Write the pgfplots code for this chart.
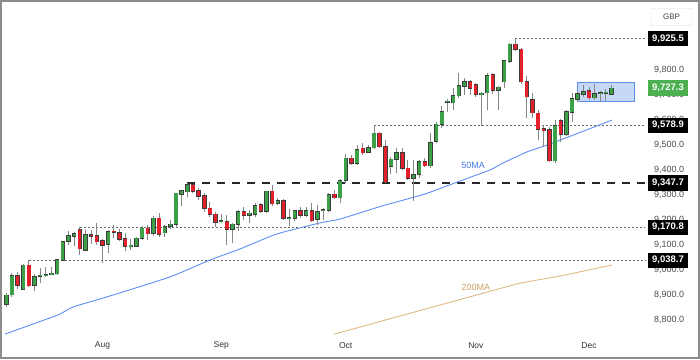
\documentclass[border=0pt]{standalone}
\usepackage{pgfplots}
\pgfplotsset{compat=1.18}
\usepackage{pgfplotstable}
\usepackage{fontspec}
\setmainfont{Liberation Sans}

\definecolor{cgreen}{RGB}{60,160,70}
\definecolor{cred}{RGB}{228,32,42}
\definecolor{coutline}{RGB}{60,60,60}
\definecolor{cwick}{RGB}{135,135,135}
\definecolor{ma50}{RGB}{95,140,245}
\definecolor{ma200}{RGB}{224,184,130}
\definecolor{ma50t}{RGB}{70,120,230}
\definecolor{ma200t}{RGB}{205,160,100}
\definecolor{boxfill}{RGB}{198,216,247}
\definecolor{boxline}{RGB}{95,140,240}
\definecolor{lblgreen}{RGB}{76,175,80}
\definecolor{ticktext}{RGB}{75,75,75}

% green candles: index, open, high, low, close
\pgfplotstableread{
i O H L C
0 8864 8907 8853 8899
1 8901 8989 8893 8976
3 8924 9023 8920 9019
5 8939 8984 8917 8973
6 8976 9008 8947 8979
7 8979 9013 8971 8982
8 8981 9011 8979 8987
9 8985 9045 8979 9040
10 9040 9115 9037 9112
11 9115 9157 9099 9136
12 9136 9153 9096 9144
14 9080 9160 9075 9140
18 9104 9160 9069 9153
22 9093 9123 9080 9099
23 9096 9133 9093 9127
24 9127 9176 9120 9167
26 9147 9216 9136 9207
28 9149 9180 9133 9173
29 9176 9200 9163 9183
30 9183 9309 9167 9307
31 9304 9320 9256 9316
32 9313 9347.7 9291 9340
38 9193 9223 9187 9196
40 9163 9187 9107 9183
41 9183 9240 9157 9233
43 9219 9240 9189 9227
44 9223 9267 9213 9257
46 9236 9317 9229 9315
48 9267 9287 9260 9277
50 9207 9243 9177 9209
51 9207 9240 9196 9237
53 9220 9253 9213 9237
55 9203 9260 9180 9233
56 9237 9247 9200 9240
57 9240 9307 9233 9300
59 9289 9363 9267 9356
60 9360 9465 9347 9447
62 9427 9500 9420 9480
64 9471 9500 9467 9489
65 9489 9578.9 9484 9547
68 9416 9451 9384 9443
69 9444 9487 9390 9469
72 9367 9440 9277 9380
73 9383 9440 9367 9433
75 9417 9547 9409 9509
76 9516 9593 9507 9583
77 9584 9656 9568 9633
78 9672 9682 9633 9675
79 9669 9727 9640 9697
80 9697 9789 9687 9736
81 9736 9767 9700 9753
84 9701 9710 9575 9707
85 9709 9787 9640 9776
87 9720 9736 9640 9731
88 9753 9840 9727 9836
89 9836 9907 9827 9903
97 9437 9600 9427 9577
99 9543 9640 9536 9632
100 9632 9707 9593 9684
101 9684 9713 9673 9704
102 9703 9740 9693 9713
104 9689 9744 9680 9704
105 9706 9716 9673 9708
106 9707 9723 9676 9710
107 9704 9740 9700 9727.3
}\gT

% red candles: index, open, high, low, close
\pgfplotstableread{
i O H L C
2 8976 8993 8923 8940
4 9019 9038.7 8933 8937
13 9160 9170.8 9059 9085
15 9140 9160 9104 9136
16 9136 9189 9101 9113
17 9116 9123 9029 9099
19 9155 9180 9127 9151
20 9148 9163 9115 9124
21 9124 9147 9076 9095
25 9167 9180 9120 9145
27 9207 9227 9133 9144
33 9340 9345 9307 9316
34 9317 9327 9280 9296
35 9296 9307 9233 9247
36 9247 9271 9213 9223
37 9223 9233 9173 9191
39 9193 9220 9100 9163
42 9233 9253 9200 9220
45 9260 9269 9227 9236
47 9315 9340 9256 9265
49 9277 9283 9200 9207
52 9237 9253 9207 9220
54 9237 9267 9193 9197
58 9303 9320 9283 9289
61 9447 9460 9420 9427
63 9487 9507 9460 9469
66 9547 9551 9487 9493
67 9493 9520 9347 9353
70 9469 9487 9400 9407
71 9407 9440 9360 9367
74 9433 9447 9413 9417
82 9753 9760 9700 9727
83 9740 9747 9693 9703
86 9780 9789 9704 9720
90 9903 9925.5 9877 9883
91 9883 9887 9744 9753
92 9753 9775 9607 9693
93 9680 9707 9607 9629
94 9627 9640 9520 9563
95 9564 9580 9493 9557
96 9560 9573 9433 9437
98 9596 9603 9513 9543
103 9716 9733 9680 9689
}\rT

\begin{document}
\begin{tikzpicture}
\useasboundingbox (0,0) rectangle (700pt,359pt);
\begin{axis}[
  at={(2pt,0pt)}, anchor=south west,
  scale only axis, width=643pt, height=359pt,
  xmin=-0.76, xmax=112.9, ymin=8644, ymax=10080,
  axis line style={draw=none}, major tick length=0pt,
  clip=false,
  scaled y ticks=false, scaled x ticks=false,
  xtick={17,38,60,83,103}, xticklabels={Aug,Sep,Oct,Nov,Dec},
  xticklabel style={anchor=center, yshift=13.5pt, font=\fontsize{8.5}{10}\selectfont, text=black!80},
  ytick={8800,8900,...,9800}, yticklabel pos=right,
  yticklabel style={anchor=west, inner sep=0pt, xshift=9pt, font=\fontsize{9}{10}\selectfont, text=ticktext,
    /pgf/number format/.cd, fixed, fixed zerofill, precision=1, 1000 sep={,}, assume math mode=true},
  every error bar/.style={},
]
% highlight box
\addplot[fill=boxfill, draw=boxline, line width=0.8pt] coordinates {(101,9676) (111,9676) (111,9752) (101,9752) (101,9676)};

% horizontal levels
\addplot[black!60, line width=0.7pt, dash pattern=on 2pt off 2pt] coordinates {(4,9038.7) (112.9,9038.7)};
\addplot[black!60, line width=0.7pt, dash pattern=on 2pt off 2pt] coordinates {(13,9170.8) (112.9,9170.8)};
\addplot[black!60, line width=0.7pt, dash pattern=on 2pt off 2pt] coordinates {(65,9578.9) (112.9,9578.9)};
\addplot[black!60, line width=0.7pt, dash pattern=on 2pt off 2pt] coordinates {(90,9925.5) (112.9,9925.5)};
\addplot[black!85, line width=1.8pt, dash pattern=on 8pt off 7pt] coordinates {(32,9347.7) (112.9,9347.7)};

% moving averages
\addplot[ma50, line width=0.9pt, smooth, tension=0.3] coordinates {
(-0.2,8744) (9.1,8820) (11.8,8852) (18.3,8896) (28.9,8972) (36.0,9040) (41.3,9084)
(47.8,9144) (55.4,9188) (59.0,9204) (66.4,9256) (74.0,9304) (80.2,9356) (85.5,9400)
(87.8,9428) (92.0,9472) (96.1,9504) (107.1,9600)};
\addplot[ma200, line width=0.9pt, smooth, tension=0.3] coordinates {
(57.9,8743) (69.6,8816) (82.0,8893) (90.8,8947) (97.9,8976) (107.1,9020)};

% wicks
\addplot[draw=none, mark=none, error bars/.cd, y dir=plus, y explicit, error mark=none,
  error bar style={draw=cwick, line width=1pt}]
  table[x=i, y=L, y error plus expr=\thisrow{H}-\thisrow{L}] {\gT};
\addplot[draw=none, mark=none, error bars/.cd, y dir=plus, y explicit, error mark=none,
  error bar style={draw=cwick, line width=1pt}]
  table[x=i, y=L, y error plus expr=\thisrow{H}-\thisrow{L}] {\rT};

% bodies: outline then fill
\addplot[draw=none, mark=none, error bars/.cd, y dir=plus, y explicit, error mark=none,
  error bar style={draw=coutline, line width=4.4pt}]
  table[x=i, y expr=\thisrow{O}-2.5, y error plus expr=\thisrow{C}-\thisrow{O}+5] {\gT};
\addplot[draw=none, mark=none, error bars/.cd, y dir=plus, y explicit, error mark=none,
  error bar style={draw=cgreen, line width=3.2pt}]
  table[x=i, y=O, y error plus expr=\thisrow{C}-\thisrow{O}] {\gT};
\addplot[draw=none, mark=none, error bars/.cd, y dir=plus, y explicit, error mark=none,
  error bar style={draw=coutline, line width=4.4pt}]
  table[x=i, y expr=\thisrow{C}-2.5, y error plus expr=\thisrow{O}-\thisrow{C}+5] {\rT};
\addplot[draw=none, mark=none, error bars/.cd, y dir=plus, y explicit, error mark=none,
  error bar style={draw=cred, line width=3.2pt}]
  table[x=i, y=C, y error plus expr=\thisrow{O}-\thisrow{C}] {\rT};

\node[text=ma50t, font=\fontsize{9}{10}\selectfont] at (axis cs:82.5,9420) {50MA};
\node[text=ma200t, font=\fontsize{9}{10}\selectfont] at (axis cs:83,8932) {200MA};

\coordinate (pA) at (axis cs:112.9,9925.5);
\coordinate (pB) at (axis cs:112.9,9727.3);
\coordinate (pC) at (axis cs:112.9,9578.9);
\coordinate (pD) at (axis cs:112.9,9347.7);
\coordinate (pE) at (axis cs:112.9,9170.8);
\coordinate (pF) at (axis cs:112.9,9038.7);
\end{axis}
\tikzset{plbl/.style={fill=black, text=white, inner sep=0pt, minimum width=40pt, minimum height=15.5pt, font=\bfseries\fontsize{9.5}{10}\selectfont}}
\node[plbl] at ([xshift=23pt]pA) {9,925.5};
\node[plbl, fill=lblgreen] at ([xshift=23pt]pB) {9,727.3};
\node[plbl] at ([xshift=23pt]pC) {9,578.9};
\node[plbl] at ([xshift=23pt]pD) {9,347.7};
\node[plbl] at ([xshift=23pt]pE) {9,170.8};
\node[plbl] at ([xshift=23pt]pF) {9,038.7};
\node[draw=black!15, fill=white, rounded corners=2pt, minimum width=41pt, minimum height=17.5pt, inner sep=0pt,
  font=\fontsize{8}{9}\selectfont, text=black!75] at (671.5pt,342pt) {GBP};
\draw[black!45, line width=1.6pt] (0.8pt,0.8pt) rectangle (699.2pt,358.2pt);
\end{tikzpicture}
\end{document}
